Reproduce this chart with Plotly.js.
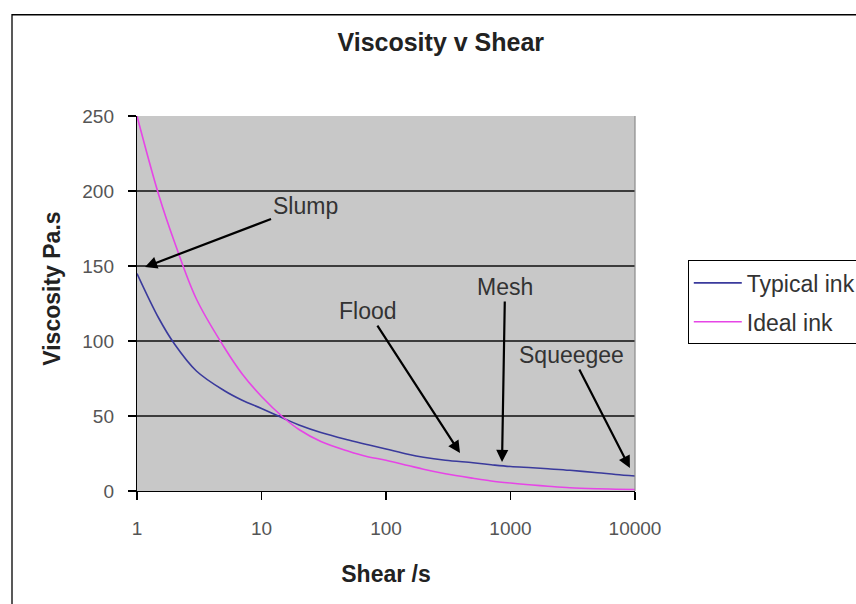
<!DOCTYPE html>
<html>
<head>
<meta charset="utf-8">
<script src="https://cdn.plot.ly/plotly-3.0.1.min.js"></script>
<style>html,body{margin:0;padding:0;background:#fff;}#chart{width:856px;height:604px;}</style>
</head>
<body>
<div id="chart"></div>
<script>
// Data
const shear   = [1, 1.5, 2, 3, 5, 7, 10, 15, 20, 30, 50, 70, 100, 150, 200, 300, 500, 700, 1000, 1500, 2000, 3000, 5000, 7000, 10000];
const typical = [145, 115, 98, 80, 67, 60.5, 55, 48.5, 44, 39, 34, 31, 28, 24.5, 22.5, 20.5, 18.8, 17.5, 16.3, 15.5, 14.8, 13.8, 12.2, 11, 10];
const ideal   = [250, 197, 166, 128, 96, 78, 63, 49, 41, 33, 26.5, 23, 20.5, 17, 14.5, 11.5, 8.5, 6.7, 5.3, 4, 3.2, 2.2, 1.5, 1.2, 1];
const seriesNames = ["Typical ink", "Ideal ink"];
const xTickVals = [1, 10, 100, 1000, 10000];
const xTickText = ["1", "10", "100", "1000", "10000"];
const yTickVals = [0, 50, 100, 150, 200, 250];

// Annotation labels: [text, shear at arrow head, viscosity at arrow head]
const notes = [
  ["Slump", 1.16, 149.3],
  ["Flood", 393, 25.3],
  ["Mesh", 855, 19.3],
  ["Squeegee", 9100, 15.3]
];
const noteOffsets = [[160, -61], [-92, -142], [3, -175], [-58, -113]];

const FONT = "Liberation Sans, Arial, sans-serif";

const traces = [
  {x: shear, y: typical, name: seriesNames[0], mode: "lines", type: "scatter",
   line: {color: "#3a3a9c", width: 1.6, shape: "spline", smoothing: 1}, legendgroup: "a"},
  {x: shear, y: ideal, name: seriesNames[1], mode: "lines", type: "scatter",
   line: {color: "#e645e6", width: 1.6, shape: "spline", smoothing: 1}, legendgroup: "b"}
];

const annotations = notes.map((n, i) => ({
  x: Math.log10(n[1]), y: n[2], xref: "x", yref: "y",
  text: n[0], showarrow: true, ax: noteOffsets[i][0], ay: noteOffsets[i][1],
  arrowhead: 2, arrowsize: 1.1, arrowwidth: 2.2, arrowcolor: "#000",
  font: {family: FONT, size: 23, color: "#333"}
}));
annotations.push({
  xref: "paper", yref: "paper", x: -0.171, y: 0.539, showarrow: false,
  text: "Viscosity Pa.s", textangle: -90, xanchor: "center", yanchor: "middle",
  font: {family: FONT, size: 23, color: "#222", weight: "bold"}
});

const layout = {
  width: 856, height: 604,
  margin: {l: 137, r: 221, t: 116, b: 113, autoexpand: false},
  paper_bgcolor: "#ffffff",
  plot_bgcolor: "#c8c8c8",
  font: {family: FONT},
  title: {text: "Viscosity v Shear", xref: "paper", x: 0.61, xanchor: "center",
          y: 0.93, yref: "container", yanchor: "middle",
          font: {family: FONT, size: 25, color: "#222", weight: "bold"}},
  xaxis: {type: "log", range: [0, 4], tickvals: xTickVals, ticktext: xTickText,
          showgrid: false, zeroline: false, showline: true, linecolor: "#000", linewidth: 1.2,
          ticks: "outside", ticklen: 8, tickcolor: "#000", tickwidth: 1.2,
          ticklabelstandoff: 12,
          tickfont: {family: FONT, size: 19, color: "#555"},
          title: {text: "Shear /s", standoff: 27, font: {family: FONT, size: 23, color: "#222", weight: "bold"}},
          automargin: false},
  yaxis: {range: [0, 250], tickvals: yTickVals,
          showgrid: true, gridcolor: "#3c3c3c", gridwidth: 1.2, zeroline: false,
          showline: true, linecolor: "#000", linewidth: 1.2,
          ticks: "outside", ticklen: 8, tickcolor: "#000", tickwidth: 1.2,
          ticklabelstandoff: 10,
          tickfont: {family: FONT, size: 19, color: "#555"},
          automargin: false},
  legend: {x: 1.106, y: 0.615, xanchor: "left", yanchor: "top",
           bgcolor: "#fff", bordercolor: "#000", borderwidth: 1,
           traceorder: "grouped", tracegroupgap: 6, itemwidth: 48,
           font: {family: FONT, size: 23, color: "#333"}},
  showlegend: true,
  annotations: annotations,
  shapes: [
    {type: "line", xref: "paper", yref: "paper", x0: 1, x1: 1, y0: 0, y1: 1,
     line: {color: "#8a8a8a", width: 1.2}},
    {type: "rect", xref: "paper", yref: "paper", x0: -0.251, x1: 1.6, y0: -0.4, y1: 1.27,
     line: {color: "#000", width: 1.3}, fillcolor: "rgba(0,0,0,0)"}
  ]
};

Plotly.newPlot("chart", traces, layout, {displayModeBar: false, staticPlot: true});
</script>
</body>
</html>
